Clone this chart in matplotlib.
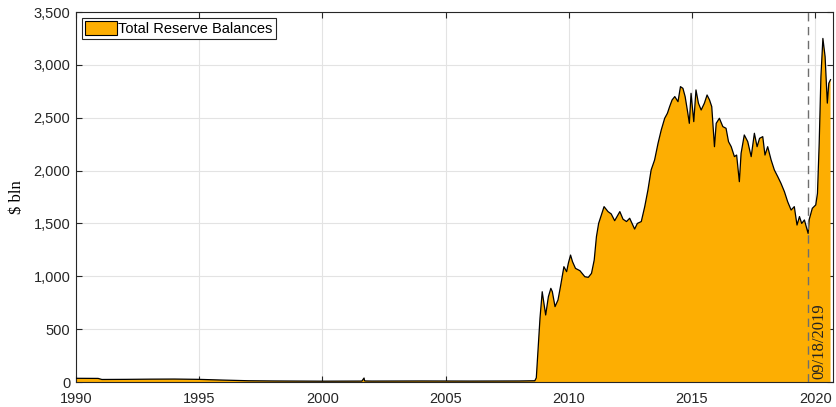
import numpy as np
import matplotlib.pyplot as plt
from matplotlib.ticker import FuncFormatter

# Total reserve balances held at the Fed, $ bln (decimal year, value)
years = [
    1990.0, 1990.9, 1991.05, 1992.0, 1993.0, 1994.0, 1995.0, 1996.0,
    1997.0, 1998.0, 1999.0, 2000.0, 2001.6, 2001.69, 2001.71, 2001.75, 2002.0,
    2004.0, 2006.0, 2008.0, 2008.62, 2008.68,
    2008.83, 2008.92, 2009.06, 2009.17, 2009.27, 2009.33, 2009.44, 2009.56,
    2009.66, 2009.80, 2009.91, 2009.98, 2010.07, 2010.15, 2010.27, 2010.45,
    2010.65, 2010.79, 2010.92, 2011.03, 2011.12, 2011.21, 2011.32, 2011.43,
    2011.59, 2011.72, 2011.86, 2012.07, 2012.20, 2012.34, 2012.47, 2012.67,
    2012.78, 2012.94, 2013.08, 2013.21, 2013.34, 2013.48, 2013.62, 2013.75,
    2013.89, 2014.00, 2014.09, 2014.19, 2014.30, 2014.43, 2014.53, 2014.63,
    2014.72, 2014.83, 2014.89, 2014.96, 2015.07, 2015.16, 2015.26, 2015.37,
    2015.50, 2015.61, 2015.71, 2015.80, 2015.91, 2015.98, 2016.11, 2016.25,
    2016.38, 2016.48, 2016.59, 2016.72, 2016.81, 2016.92, 2016.99, 2017.12,
    2017.26, 2017.40, 2017.53, 2017.64, 2017.74, 2017.87, 2017.96, 2018.07,
    2018.21, 2018.34, 2018.48, 2018.61, 2018.75, 2018.88, 2019.02, 2019.15,
    2019.26, 2019.36, 2019.45, 2019.56, 2019.71, 2019.75, 2019.88, 2020.02,
    2020.09, 2020.16, 2020.23, 2020.31, 2020.40, 2020.49, 2020.55, 2020.62,
]
reserves = [
    35, 34, 24, 25, 27, 28, 25, 18,
    12, 10, 9, 8, 9, 38, 12, 10, 9,
    10, 9, 10, 12, 40,
    605, 854, 634, 807, 886, 855, 713, 776,
    902, 1091, 1044, 1123, 1201, 1138, 1075, 1053,
    996, 990, 1028, 1154, 1375, 1501, 1580, 1659,
    1612, 1590, 1526, 1612, 1540, 1518, 1549, 1447,
    1500, 1518, 1659, 1816, 2006, 2100, 2258, 2384,
    2495, 2542, 2605, 2668, 2700, 2652, 2794, 2778,
    2700, 2542, 2447, 2731, 2463, 2763, 2637, 2573,
    2637, 2715, 2668, 2605, 2226, 2447, 2495, 2416,
    2400, 2274, 2226, 2132, 2147, 1895, 2163, 2337,
    2274, 2132, 2353, 2226, 2305, 2321, 2147, 2226,
    2100, 2006, 1942, 1879, 1800, 1706, 1627, 1659,
    1485, 1565, 1500, 1533, 1406, 1533, 1643, 1675,
    1785, 2258, 2890, 3250, 3078, 2638, 2826, 2860,
]

event_year = 2019 + (261 - 1) / 365   # 18 Sep 2019
event_label = "09/18/2019"
xticks = [1990, 1995, 2000, 2005, 2010, 2015, 2020]
yticks = [0, 500, 1000, 1500, 2000, 2500, 3000, 3500]

plt.rcParams["font.family"] = ["Liberation Sans", "DejaVu Sans"]
serif = ["Liberation Serif", "DejaVu Serif"]

fig = plt.figure(figsize=(8.36, 4.07), dpi=100)
ax = fig.add_axes([0.0909, 0.0614, 0.9055, 0.9091])

ax.fill_between(years, reserves, 0, facecolor="#FDAE02", edgecolor="none",
                label="Total Reserve Balances", zorder=2)
ax.plot(years, reserves, color="black", lw=0.9, zorder=3)

ax.axvline(event_year, color="#6e6e6e", lw=1.0, ls=(0, (6, 4)), zorder=4)
ax.text(event_year + 0.15, 25, event_label, rotation=90, ha="left", va="bottom",
        family=serif, fontsize=12, color="#222222", zorder=5)

ax.set_xlim(1990, 2020.72)
ax.set_ylim(0, 3500)
ax.set_xticks(xticks)
ax.set_yticks(yticks)
ax.yaxis.set_major_formatter(FuncFormatter(lambda v, p: f"{v:,.0f}"))
ax.tick_params(direction="in", length=4, width=0.8, labelsize=10.5,
               top=True, right=True, colors="#262626")
ax.tick_params(axis="x", pad=7)
ax.tick_params(axis="y", pad=4)
ax.grid(True, color="#e3e3e3", lw=0.8, zorder=0)
ax.set_axisbelow(True)
for s in ax.spines.values():
    s.set_color("#262626")
    s.set_linewidth(0.8)

ax.set_ylabel("$ bln", family=serif, fontsize=12, labelpad=6)

leg = ax.legend(loc="upper left", fancybox=False, framealpha=1,
                edgecolor="#262626", fontsize=10.5, borderaxespad=0.4,
                handlelength=2.2, handleheight=1.1, handletextpad=0.1,
                borderpad=0.2)
leg.get_frame().set_linewidth(0.8)
leg.legend_handles[0].set_edgecolor("black")
leg.legend_handles[0].set_linewidth(0.8)

fig.savefig("out.png", dpi=100)
plt.close(fig)
